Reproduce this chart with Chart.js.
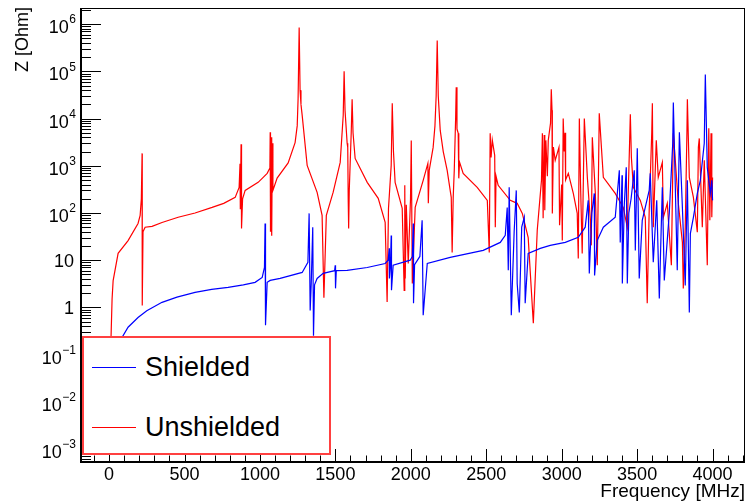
<!DOCTYPE html>
<html>
<head>
<meta charset="utf-8">
<script src="https://cdn.jsdelivr.net/npm/chart.js@4/dist/chart.umd.min.js"></script>
<style>
  html, body { margin: 0; padding: 0; background: #fff; }
  #wrap { position: relative; width: 747px; height: 503px; font-family: "Liberation Sans", Arial, sans-serif; }
  #c { position: absolute; left: 0; top: 0; }
  .ytitle { position: absolute; left: 12px; top: 7px; font-size: 18px; white-space: nowrap;
            transform-origin: left top; transform: rotate(-90deg) translate(-100%, 0); }
  .xtitle { position: absolute; right: 2px; top: 480px; font-size: 19px; white-space: nowrap; }
  .legend { position: absolute; left: 82px; top: 336px; width: 245px; height: 115px;
            background: #fff; border: 2px solid rgba(255, 0, 0, 0.75); }
  .entry { position: absolute; left: 0; height: 30px; font-size: 27px; line-height: 30px; }
  .entry .ln { position: absolute; left: 8px; width: 44px; top: 15px; height: 0; }
  .entry .tx { position: absolute; left: 61px; top: 0; white-space: nowrap; }
</style>
</head>
<body>
<div id="wrap">
  <canvas id="c" width="747" height="503"></canvas>
  <div class="ytitle">Z [Ohm]</div>
  <div class="xtitle">Frequency [MHz]</div>
  <div class="legend">
    <div class="entry" style="top:14px"><div class="ln" style="border-top:1px solid #0000ff"></div><div class="tx">Shielded</div></div>
    <div class="entry" style="top:74px"><div class="ln" style="border-top:1px solid #ff0000"></div><div class="tx">Unshielded</div></div>
  </div>
</div>
<script>
// Impedance vs frequency.
const freqShielded = [40, 86, 126, 192, 250, 351, 450, 570, 680, 789, 890, 968, 1015, 1030, 1034, 1037, 1048, 1068, 1134, 1280,
  1318, 1326, 1333, 1340, 1350, 1355, 1362, 1379, 1419, 1495, 1499, 1501, 1506, 1578, 1711, 1830, 1850,
  1857, 1858, 1865, 1870, 1872, 1883, 1996, 2010, 2016, 2018, 2025, 2060, 2075, 2082, 2109, 2261, 2480,
  2593, 2626, 2639, 2646, 2652, 2666, 2685, 2699, 2705, 2719, 2735, 2752, 2758, 2778, 2858, 2924, 3024,
  3110, 3156, 3176, 3183, 3200, 3216, 3218, 3236, 3276, 3355, 3382, 3388, 3400, 3402, 3415, 3428, 3435,
  3445, 3460, 3481, 3488, 3495, 3501, 3514, 3534, 3580, 3587, 3607, 3630, 3647, 3667, 3680, 3713, 3736,
  3740, 3766, 3780, 3800, 3819, 3833, 3846, 3853, 3873, 3899, 3919, 3945, 3952, 3965, 3985, 3995, 4000];
const zShielded = [0.02, 0.23, 0.38, 0.61, 0.85, 1.28, 1.65, 2.08, 2.4, 2.65, 3.0, 3.39, 4.32, 7, 60, 0.42, 3.4, 3.73, 4.1, 5.5,
  9, 98, 0.86, 3.2, 50, 0.25, 3, 4.1, 5.25, 6, 7.8, 2.53, 6, 6.1, 7, 8.5, 10,
  17.8, 4.1, 8, 33.5, 2.3, 7.8, 10, 12, 60, 1.22, 8, 12, 70, 0.68, 8.55, 11.5, 16.1,
  23.8, 33.5, 131, 6.1, 349, 0.68, 40, 301, 3.2, 0.78, 50, 81, 1.22, 13.9, 17.8, 20.6, 23.8,
  30.4, 50, 185, 5.25, 100, 260, 4.76, 26.3, 50, 81, 800, 23.8, 626, 3.2, 150, 925, 3.2,
  100, 200, 800, 16.1, 200, 2340, 4.1, 70, 300, 690, 9, 185, 1.55, 349, 3.73, 98, 3000,
  22000, 6.1, 5100, 131, 2.9, 491, 0.78, 37, 81, 260, 491, 3000, 86000, 925, 260, 491, 185];

const freqUnshielded = [7, 13, 20, 27, 60, 126, 192, 206, 214, 219, 220, 225, 239, 285, 351, 458, 570, 683, 760, 836, 862,
  868, 870, 875, 878, 885, 902, 988, 1020, 1048, 1066, 1068, 1070, 1074, 1078, 1082, 1086, 1114, 1187, 1233,
  1247, 1253, 1260, 1266, 1272, 1280, 1313, 1379, 1412, 1424, 1440, 1485, 1532, 1552, 1558, 1564, 1578, 1582, 1585,
  1588, 1592, 1605, 1611, 1617, 1631, 1711, 1784, 1830, 1843, 1852, 1870, 1877, 1885, 1896, 1943, 1956,
  1960, 1963, 1970, 1983, 1998, 2003, 2010, 2029, 2082, 2113, 2116, 2122, 2148, 2160, 2168, 2175, 2182, 2195,
  2215, 2241, 2268, 2274, 2281, 2288, 2297, 2301, 2306, 2314, 2318, 2323, 2347, 2440, 2507, 2520, 2526, 2532,
  2540, 2556, 2560, 2565, 2579, 2659, 2705, 2739, 2778, 2812, 2838, 2866, 2872, 2877, 2884, 2888, 2895,
  2905, 2911, 2926, 2931, 2936, 2938, 2945, 2957, 2982, 2986, 3000, 3004, 3010, 3017, 3022, 3026, 3044,
  3077, 3103, 3110, 3117, 3125, 3136, 3150, 3170, 3190, 3196, 3203, 3223, 3236, 3249, 3276, 3355, 3408,
  3435, 3450, 3455, 3462, 3475, 3521, 3554, 3567, 3580, 3597, 3601, 3607, 3627, 3640, 3667, 3674, 3700,
  3727, 3740, 3753, 3773, 3800, 3806, 3819, 3830, 3833, 3846, 3873, 3899, 3906, 3912, 3932, 3945, 3965,
  3975, 3982, 3990, 3995, 4000];
const zUnshielded = [0.03, 0.23, 1.5, 3.7, 14, 26, 60, 89, 200, 1830, 1.1, 40, 50, 52, 63, 81, 100, 131, 160, 214, 349,
  1100, 120, 2850, 47, 200, 301, 445, 560, 690, 900, 5100, 40, 4000, 33, 3000, 300, 550, 1150, 3100,
  7000, 27000, 850000, 40000, 20000, 11700, 1020, 273, 89, 1.6, 89, 273, 1180, 11700, 100000, 15000, 3000, 2450, 200,
  47, 300, 5000, 25500, 5000, 1430, 445, 204, 63, 1.3, 125, 1020, 21000, 2000, 445, 125, 2.3,
  385, 4.1, 150, 8.5, 200, 3450, 3.2, 131, 491, 1120, 160, 800, 2450, 7000, 30000, 450000, 30000, 5600,
  2000, 800, 214, 14.6, 214, 800, 10000, 46000, 6000, 4900, 541, 1200, 690, 349, 185, 14.6, 4900, 1500,
  3500, 1660, 50, 600, 385, 185, 160, 98, 30, 0.46, 43, 491, 4900, 77, 4500, 114, 3450,
  600, 3450, 8000, 42000, 15000, 98, 2500, 1300, 2450, 55, 400, 26, 10000, 2000, 5000, 500, 690,
  260, 98, 10.9, 10000, 400, 13.9, 10000, 568, 70, 20.6, 4000, 260, 7.8, 12900, 568, 260, 131,
  50, 3000, 12300, 1500, 349, 185, 81, 1.22, 114, 5000, 21000, 50, 3450, 568, 1180, 81, 160,
  7.8, 4900, 1300, 160, 23.8, 2.5, 50, 5000, 25500, 568, 214, 39, 2450, 3800, 50, 1300, 7.8,
  6200, 70, 4900, 81, 568];

const xTicksMajor = [0, 500, 1000, 1500, 2000, 2500, 3000, 3500, 4000];
const yExponents = [-3, -2, -1, 0, 1, 2, 3, 4, 5, 6];

const X_MIN = -186, X_MAX = 4215;
const Y_MIN = 5.3e-4, Y_MAX = 2.2e6;
const FONT = "'Liberation Sans', Arial, sans-serif";

function toPoints(xs, ys) {
  return xs.map((x, i) => ({ x: x, y: ys[i] }));
}

// ROOT-style frame: box, thick axis lines, inward major/minor ticks,
// and y labels written as 10 with a raised exponent.
const framePlugin = {
  id: "frame",
  afterDraw(chart) {
    const { ctx, chartArea: a, scales } = chart;
    const xs = scales.x, ys = scales.y;
    ctx.save();
    ctx.strokeStyle = "#000";
    ctx.lineWidth = 1;
    ctx.strokeRect(a.left + 0.5, a.top + 0.5, a.right - a.left - 1, a.bottom - a.top - 1);
    ctx.lineWidth = 2;
    ctx.beginPath();
    ctx.moveTo(a.left, a.top); ctx.lineTo(a.left, a.bottom); ctx.lineTo(a.right, a.bottom);
    ctx.stroke();
    ctx.lineWidth = 1;
    ctx.beginPath();
    for (let f = -100; f <= 4200; f += 100) {
      const px = Math.round(xs.getPixelForValue(f)) + 0.5;
      const len = f % 500 === 0 ? 13 : 6.5;
      ctx.moveTo(px, a.bottom); ctx.lineTo(px, a.bottom - len);
    }
    for (let e = -4; e <= 6; e++) {
      for (let k = 1; k <= 9; k++) {
        const v = k * Math.pow(10, e);
        if (v < Y_MIN || v > Y_MAX) continue;
        const py = Math.round(ys.getPixelForValue(v)) + 0.5;
        const len = k === 1 ? 20 : 10;
        ctx.moveTo(a.left, py); ctx.lineTo(a.left + len, py);
      }
    }
    ctx.stroke();

    ctx.fillStyle = "#000";
    ctx.textAlign = "right";
    ctx.textBaseline = "middle";
    const right = a.left - 6;
    yExponents.forEach(e => {
      const py = ys.getPixelForValue(Math.pow(10, e));
      if (e === 0 || e === 1) {
        ctx.font = "18px " + FONT;
        ctx.fillText(e === 0 ? "1" : "10", right - 1, py + 2);
        return;
      }
      const ex = String(e).replace("-", "\u2212");
      ctx.font = "12px " + FONT;
      const w = ctx.measureText(ex).width;
      ctx.fillText(ex, right + 1, py - 4);
      ctx.font = "18px " + FONT;
      ctx.fillText("10", right + 1 - w - 0.5, py + 4);
    });
    ctx.restore();
  }
};

Chart.defaults.font.family = FONT;
Chart.defaults.font.size = 18;
Chart.defaults.color = "#000";

new Chart(document.getElementById("c"), {
  type: "line",
  data: {
    datasets: [
      {
        label: "Shielded",
        data: toPoints(freqShielded, zShielded),
        borderColor: "#0000ff",
        borderWidth: 1.2,
        pointRadius: 0,
        tension: 0,
        fill: false,
      },
      {
        label: "Unshielded",
        data: toPoints(freqUnshielded, zUnshielded),
        borderColor: "#ff0000",
        borderWidth: 1.2,
        pointRadius: 0,
        tension: 0,
        fill: false,
      },
    ],
  },
  options: {
    responsive: false,
    animation: false,
    devicePixelRatio: 1,
    layout: { padding: { top: 8, right: 2, left: 0, bottom: 0 } },
    plugins: { legend: { display: false }, tooltip: { enabled: false } },
    scales: {
      x: {
        type: "linear",
        min: X_MIN,
        max: X_MAX,
        afterFit: s => { s.height = 41; s.paddingLeft = 0; s.paddingRight = 0; },
        afterBuildTicks: s => { s.ticks = xTicksMajor.map(v => ({ value: v })); },
        ticks: { padding: 2, maxRotation: 0, autoSkip: false, callback: v => String(v) },
        grid: { display: false, drawTicks: false },
        border: { display: false },
      },
      y: {
        type: "logarithmic",
        min: Y_MIN,
        max: Y_MAX,
        afterFit: s => { s.width = 81; s.paddingTop = 0; s.paddingBottom = 0; },
        afterBuildTicks: s => { s.ticks = yExponents.map(e => ({ value: Math.pow(10, e) })); },
        ticks: { display: false },
        grid: { display: false, drawTicks: false },
        border: { display: false },
      },
    },
  },
  plugins: [framePlugin],
});
</script>
</body>
</html>
